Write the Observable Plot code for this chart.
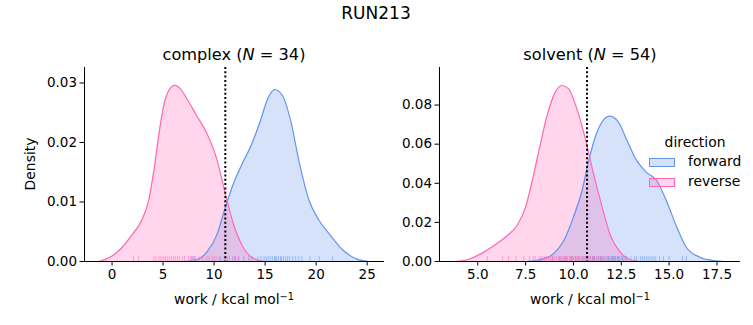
<!DOCTYPE html>
<html>
<head>
<meta charset="utf-8">
<script src="https://cdn.jsdelivr.net/npm/d3@7"></script>
<script src="https://cdn.jsdelivr.net/npm/@observablehq/plot@0.6"></script>
<style>
  body { margin: 0; background: #fff; font-family: "DejaVu Sans", sans-serif; }
  #fig { position: relative; width: 753px; height: 325px; overflow: hidden; background: #fff; }
  .panel { position: absolute; top: 0; }
  .lbl { position: absolute; transform: translate(-50%, -50%); white-space: nowrap; color: #000; }
  .lbl sup { font-size: 70%; vertical-align: 0.45em; line-height: 0; }
  .leg { position: absolute; font-size: 13.9px; color: #000; }
  .patch { position: absolute; width: 26px; height: 9px; box-sizing: border-box; }
</style>
</head>
<body>
<div id="fig"></div>
<script>
// ---------- data ----------
const directions = ["forward", "reverse"];
const colors = ["#6495ED", "#FF69B4"];

// complex leg: KDE curve points (x = work, y = density)
const complexFwdX = [7.0, 8.3, 9.3, 10.3, 11.1, 11.9, 12.75, 13.7, 14.55, 15.2, 15.95, 16.7, 17.5, 18.3, 19.3, 20.3, 21.4, 22.7, 24.0, 25.2];
const complexFwdY = [0, 0.0003, 0.0016, 0.0046, 0.0091, 0.0131, 0.0164, 0.0198, 0.0237, 0.0271, 0.0289, 0.0279, 0.0237, 0.0170, 0.0103, 0.0069, 0.0044, 0.0018, 0.0004, 0];
const complexRevX = [-1.3, -0.2, 1.0, 2.0, 2.9, 3.6, 4.1, 4.6, 5.1, 5.55, 6.15, 6.7, 7.35, 8.3, 9.3, 10.3, 11.1, 11.9, 12.75, 13.7, 14.9];
const complexRevY = [0, 0.0007, 0.0024, 0.0046, 0.0069, 0.0103, 0.0153, 0.0215, 0.0265, 0.0287, 0.0296, 0.0290, 0.0273, 0.0245, 0.0215, 0.0170, 0.0114, 0.0063, 0.0027, 0.0007, 0];

// solvent leg: KDE curve points
const solventFwdX = [7.55, 8.25, 8.95, 9.5, 10.0, 10.45, 10.8, 11.2, 11.55, 11.9, 12.35, 12.8, 13.3, 13.8, 14.35, 14.85, 15.4, 15.9, 16.6, 17.3, 17.9];
const solventFwdY = [0, 0.0009, 0.0039, 0.0107, 0.0227, 0.0363, 0.0517, 0.0653, 0.0721, 0.0743, 0.0713, 0.0619, 0.0517, 0.0457, 0.0414, 0.0312, 0.0176, 0.0073, 0.0022, 0.0005, 0];
const solventRevX = [3.75, 4.45, 5.15, 5.85, 6.55, 7.05, 7.5, 7.85, 8.2, 8.6, 9.05, 9.4, 9.75, 10.15, 10.6, 11.05, 11.5, 11.9, 12.45, 12.95, 13.5];
const solventRevY = [0, 0.0009, 0.0039, 0.0082, 0.0133, 0.0184, 0.0278, 0.0414, 0.0568, 0.0738, 0.0866, 0.0900, 0.0883, 0.0789, 0.0636, 0.0448, 0.0278, 0.0142, 0.0048, 0.0009, 0];

// rug samples (individual work values)
const complexFwdRug = [7.8, 8.1, 10.6, 11.3, 11.8, 12.1, 12.4, 12.9, 13.4, 13.7, 14.3, 14.6, 14.9, 15.1, 15.3, 15.5, 15.7, 15.9, 16.0, 16.1, 16.3, 16.5, 16.6, 16.8, 17.0, 17.2, 17.4, 17.7, 18.0, 18.3, 18.6, 19.4, 20.3, 21.6];
const complexRevRug = [2.1, 2.6, 4.1, 4.3, 4.6, 4.8, 5.0, 5.2, 5.4, 5.6, 5.8, 6.0, 6.2, 6.4, 6.6, 6.9, 7.1, 7.5, 7.7, 7.9, 8.0, 8.2, 8.5, 8.9, 9.3, 9.5, 9.8, 10.0, 10.2, 10.5, 11.0, 11.5, 12.0, 12.4];
const solventFwdRug = [8.3, 8.9, 9.3, 9.6, 9.9, 10.1, 10.3, 10.5, 10.6, 10.8, 10.9, 11.0, 11.05, 11.1, 11.2, 11.3, 11.4, 11.45, 11.5, 11.6, 11.7, 11.8, 11.85, 11.9, 12.0, 12.05, 12.1, 12.15, 12.2, 12.3, 12.35, 12.4, 12.5, 12.55, 12.6, 12.7, 12.8, 13.0, 13.2, 13.3, 13.5, 13.6, 13.7, 13.8, 13.9, 14.0, 14.1, 14.2, 14.3, 14.5, 14.7, 15.0, 15.7, 15.9];
const solventRevRug = [5.5, 6.3, 6.6, 7.0, 7.4, 7.7, 7.9, 8.0, 8.2, 8.4, 8.5, 8.6, 8.7, 8.8, 8.9, 9.0, 9.1, 9.2, 9.25, 9.3, 9.4, 9.45, 9.5, 9.55, 9.6, 9.65, 9.7, 9.8, 9.85, 9.9, 9.95, 10.0, 10.1, 10.15, 10.2, 10.25, 10.3, 10.4, 10.45, 10.5, 10.6, 10.7, 10.8, 10.9, 11.0, 11.1, 11.2, 11.3, 11.4, 11.5, 11.6, 11.8, 12.0, 12.3];

// mean / reference lines
const complexMark = [11.1];
const solventMark = [10.71];

// axes ticks
const complexXTicks = [0, 5, 10, 15, 20, 25];
const complexYTicks = [0, 0.01, 0.02, 0.03];
const solventXTicks = [5, 7.5, 10, 12.5, 15, 17.5];
const solventYTicks = [0, 0.02, 0.04, 0.06, 0.08];

const titleText = "RUN213";
const xLabel = "work / kcal mol<sup>\u22121</sup>";
const yLabel = "Density";

// ---------- helpers ----------
const toPts = (xs, ys) => xs.map((x, i) => ({x, y: ys[i]}));

function panel({fwd, rev, fwdRug, revRug, mark, xDomain, yDomain, xTicks, yTicks, xFmt, width, marginLeft, marginRight}) {
  const rugH = yDomain[1] * 0.025;
  const series = [fwd, rev];
  const rugs = [fwdRug, revRug];
  const marks = [];
  series.forEach((pts, i) => {
    marks.push(Plot.areaY(pts, {x: "x", y: "y", fill: colors[i], fillOpacity: 0.27, curve: "monotone-x"}));
  });
  series.forEach((pts, i) => {
    marks.push(Plot.line(pts, {x: "x", y: "y", stroke: colors[i], strokeWidth: 1.2, curve: "monotone-x"}));
  });
  rugs.forEach((r, i) => {
    marks.push(Plot.ruleX(r, {x: d => d, y1: 0, y2: rugH, stroke: colors[i], strokeOpacity: 0.55, strokeWidth: 1}));
  });
  marks.push(Plot.ruleX(mark, {stroke: "black", strokeWidth: 2, strokeDasharray: "2,2.3"}));
  marks.push(Plot.ruleX([xDomain[0]], {stroke: "black", strokeWidth: 1}));
  marks.push(Plot.ruleY([0], {stroke: "black", strokeWidth: 1}));
  marks.push(Plot.axisX({ticks: xTicks, tickFormat: xFmt, tickSize: 4.5, tickPadding: 3, fontSize: 13.5, label: null, stroke: "black"}));
  marks.push(Plot.axisY({ticks: yTicks, tickFormat: ".2f", tickSize: 4.5, tickPadding: 3, fontSize: 13.5, label: null, stroke: "black"}));
  return Plot.plot({
    width, height: 325,
    marginLeft, marginRight, marginTop: 67, marginBottom: 64,
    style: {fontFamily: "DejaVu Sans", color: "black", background: "transparent", overflow: "visible"},
    x: {domain: xDomain},
    y: {domain: yDomain},
    marks
  });
}

const fig = document.getElementById("fig");

const left = panel({
  fwd: toPts(complexFwdX, complexFwdY), rev: toPts(complexRevX, complexRevY),
  fwdRug: complexFwdRug, revRug: complexRevRug, mark: complexMark,
  xDomain: [-2.7, 26.7], yDomain: [0, 0.0326], xTicks: complexXTicks, yTicks: complexYTicks, xFmt: d3.format("d"),
  width: 400, marginLeft: 84, marginRight: 16
});
left.classList.add("panel"); left.style.left = "0px";
fig.appendChild(left);

const right = panel({
  fwd: toPts(solventFwdX, solventFwdY), rev: toPts(solventRevX, solventRevY),
  fwdRug: solventFwdRug, revRug: solventRevRug, mark: solventMark,
  xDomain: [3.0, 18.73], yDomain: [0, 0.0992], xTicks: solventXTicks, yTicks: solventYTicks, xFmt: d3.format(".1f"),
  width: 353, marginLeft: 39, marginRight: 13
});
right.classList.add("panel"); right.style.left = "400px";
fig.appendChild(right);

function label(html, x, y, size, rotate) {
  const d = document.createElement("div");
  d.className = "lbl";
  d.innerHTML = html;
  d.style.left = x + "px";
  d.style.top = y + "px";
  d.style.fontSize = size + "px";
  if (rotate) d.style.transform = "translate(-50%, -50%) rotate(-90deg)";
  fig.appendChild(d);
}
label(titleText, 376, 13, 17);
label("complex (<i>N</i> = 34)", 234, 54, 16.2);
label("solvent (<i>N</i> = 54)", 590, 54, 16.2);
label(xLabel, 234, 299, 13.9);
label(xLabel, 590, 299, 13.9);
label(yLabel, 30, 164, 13.9, true);

// legend
const legTitle = document.createElement("div");
legTitle.className = "lbl"; legTitle.textContent = "direction";
legTitle.style.left = "695px"; legTitle.style.top = "142px"; legTitle.style.fontSize = "13.9px";
fig.appendChild(legTitle);
directions.forEach((name, i) => {
  const top = 158 + i * 20;
  const p = document.createElement("div");
  p.className = "patch";
  p.style.left = "649px"; p.style.top = top + "px";
  p.style.border = "1.2px solid " + colors[i];
  p.style.background = colors[i] === "#6495ED" ? "rgba(100,149,237,0.27)" : "rgba(255,105,180,0.27)";
  fig.appendChild(p);
  const t = document.createElement("div");
  t.className = "leg"; t.textContent = name;
  t.style.left = "688px"; t.style.top = (top - 5) + "px";
  fig.appendChild(t);
});
</script>
</body>
</html>
